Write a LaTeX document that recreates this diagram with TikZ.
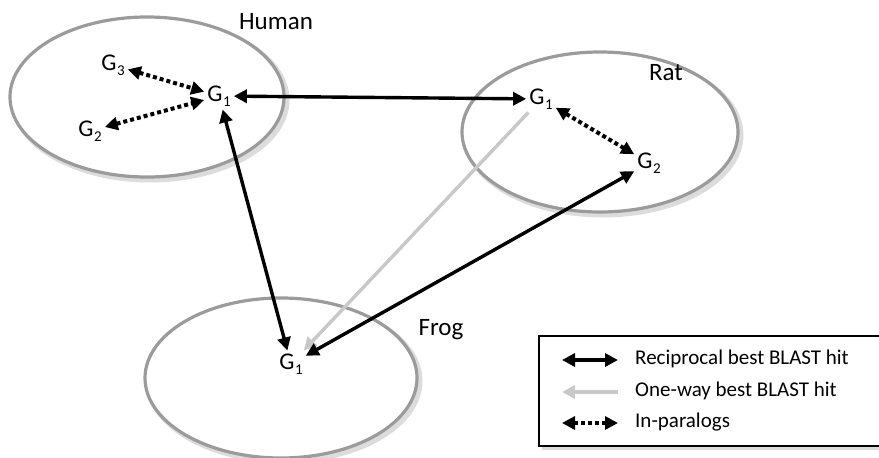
\documentclass[tikz,border=0pt]{standalone}
\usepackage{fontspec}
\setmainfont{Carlito}
\usetikzlibrary{arrows.meta,shapes.geometric}
\definecolor{ringgray}{RGB}{155,155,155}
\definecolor{shadowgray}{RGB}{220,220,220}
\definecolor{onewaygray}{RGB}{200,200,200}
\newcommand{\gsub}[1]{G\kern0.5pt\raisebox{-5pt}{\fontsize{15}{15}\selectfont #1}}
\tikzset{
  species/.style={ellipse,draw=ringgray,line width=3.2pt,fill=white,inner sep=0pt},
  speciesshadow/.style={ellipse,draw=shadowgray,line width=5pt,inner sep=0pt},
  gene/.style={font=\fontsize{24}{26}\selectfont,inner sep=3pt},
  spname/.style={font=\fontsize{25}{27}\selectfont,inner sep=0pt},
  legtext/.style={font=\fontsize{21}{23}\selectfont,anchor=west,inner sep=0pt},
  recip/.style={line width=3.4pt,black,{Triangle[width=13pt,length=13pt]}-{Triangle[width=13pt,length=13pt]}},
  oneway/.style={line width=3.4pt,onewaygray,-{Triangle[width=13pt,length=13pt]}},
  paralog/.style={line width=4pt,black,dash pattern=on 4pt off 3pt,{Triangle[width=13pt,length=13pt]}-{Triangle[width=13pt,length=13pt]}},
}
\begin{document}
\begin{tikzpicture}[x=1pt,y=-1pt]
\useasboundingbox (0,0) rectangle (879,458);
% shadows
\node[speciesshadow,minimum width=274pt,minimum height=160pt] at (150,100) {};
\node[speciesshadow,minimum width=276pt,minimum height=160pt] at (603,135) {};
\node[speciesshadow,minimum width=272pt,minimum height=160pt] at (284,381) {};
% species ellipses
\node[species,minimum width=274pt,minimum height=160pt] (human) at (147,97) {};
\node[species,minimum width=276pt,minimum height=160pt] (rat) at (600,132) {};
\node[species,minimum width=272pt,minimum height=160pt] (frog) at (281,378) {};
% species names
\node[spname] (humanlbl) at (276,22) {Human};
\node[spname] (ratlbl) at (666,73) {Rat};
\node[spname] (froglbl) at (441,330) {Frog};
% genes
\node[gene] (hg3) at (113,65) {\gsub{3}};
\node[gene] (hg2) at (90,131) {\gsub{2}};
\node[gene] (hg1) at (219,96) {\gsub{1}};
\node[gene] (rg1) at (541,99) {\gsub{1}};
\node[gene] (rg2) at (649,163) {\gsub{2}};
\node[gene] (fg1) at (291,364) {\gsub{1}};
% connectors
\draw[paralog] (hg3) -- (hg1);
\draw[paralog] (hg2) -- (hg1);
\draw[paralog] (rg1) -- (rg2);
\draw[oneway] (rg1) -- (fg1);
\draw[recip] (hg1) -- (rg1);
\draw[recip] (hg1) -- (fg1);
\draw[recip] (rg2) -- (fg1);
% legend
\fill[shadowgray] (542,339) rectangle (884,450);
\node[draw=black,line width=2.4pt,fill=white,minimum width=346pt,minimum height=110pt,anchor=north west,inner sep=0pt] (legend) at (538,335) {};
\coordinate (l1a) at (562,360); \coordinate (l1b) at (618,360);
\coordinate (l2a) at (562,392); \coordinate (l2b) at (618,392);
\coordinate (l3a) at (562,423); \coordinate (l3b) at (618,423);
\draw[recip] (l1a) -- (l1b);
\draw[line width=3.4pt,onewaygray,{Triangle[width=13pt,length=13pt]}-] (l2a) -- (l2b);
\draw[paralog] (l3a) -- (l3b);
\node[legtext] (t1) at (635,359) {Reciprocal best BLAST hit};
\node[legtext] (t2) at (635,391) {One-way best BLAST hit};
\node[legtext] (t3) at (635,422) {In-paralogs};
\end{tikzpicture}
\end{document}
